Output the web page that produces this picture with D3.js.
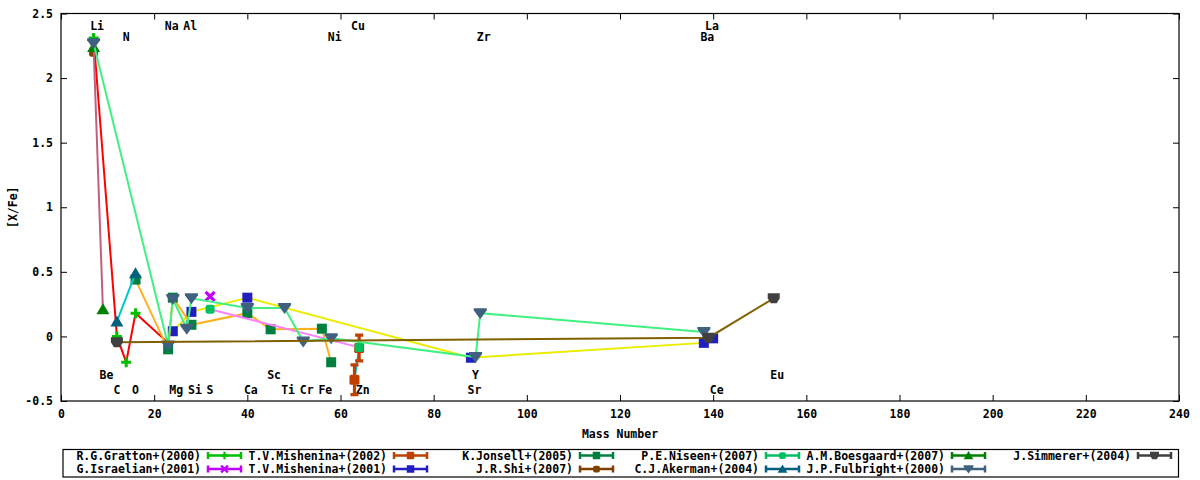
<!DOCTYPE html>
<html><head><meta charset="utf-8">
<script src="https://cdn.jsdelivr.net/npm/d3@7/dist/d3.min.js"></script>
<style>
body{margin:0;background:#fff}
text{font-family:"DejaVu Sans Mono","Liberation Mono",monospace;font-weight:bold;font-size:11.5px;fill:#000}
</style>
</head><body>
<svg id="chart" width="1200" height="480"></svg>
<script>
// ---- data ----
const seriesNames = ["R.G.Gratton+(2000)","G.Israelian+(2001)","T.V.Mishenina+(2002)","T.V.Mishenina+(2001)",
  "K.Jonsell+(2005)","J.R.Shi+(2007)","P.E.Niseen+(2007)","C.J.Akerman+(2004)",
  "A.M.Boesgaard+(2007)","J.P.Fulbright+(2000)","J.Simmerer+(2004)"];

const grattonMass = [7, 12, 14, 16, 23];
const grattonValue = [2.31, 0.0, -0.20, 0.18, -0.05];

const israelianMass = [32];
const israelianValue = [0.31];

const mishenina2002Mass = [63, 64];
const mishenina2002Value = [-0.335, -0.09];
const mishenina2002Err = [0.115, 0.10];

const mishenina2001Mass = [24, 28, 40, 88, 138, 140];
const mishenina2001Value = [0.04, 0.19, 0.30, -0.165, -0.05, -0.015];

const jonsellMass = [16, 23, 24, 28, 40, 45, 56, 58];
const jonsellValue = [0.44, -0.10, 0.30, 0.09, 0.18, 0.055, 0.06, -0.20];

const shiMass = [7];
const shiValue = [2.20];

const nissenMass = [32, 64];
const nissenValue = [0.21, -0.085];

const akermanMass = [12, 16];
const akermanValue = [0.115, 0.49];

const boesgaardMass = [7, 9];
const boesgaardValue = [2.24, 0.21];

const fulbrightMass = [7, 23, 24, 27, 28, 40, 48, 52, 58, 89, 90, 138];
const fulbrightValue = [2.27, -0.07, 0.29, 0.06, 0.295, 0.22, 0.22, -0.04, -0.015, -0.16, 0.18, 0.035];

const simmererMass = [12, 139, 153];
const simmererValue = [-0.045, -0.01, 0.295];

const xTicks = [0, 20, 40, 60, 80, 100, 120, 140, 160, 180, 200, 220, 240];
const yTicks = [-0.5, 0, 0.5, 1, 1.5, 2, 2.5];
const yTickLabels = ["-0.5", "0", "0.5", "1", "1.5", "2", "2.5"];

const elementNames = ["Li","Na","Al","Cu","La","N","Ni","Zr","Ba","Be","Sc","Y","Eu",
  "C","O","Mg","Si","S","Ca","Ti","Cr","Fe","Zn","Sr","Ce"];
const elementMass = [7,23,27,63,139,14,58,90,138,9,45,89,153,12,16,24,28,32,40,48,52,56,64,88,140];
const elementLevel = [2.40,2.40,2.40,2.40,2.40,2.32,2.32,2.32,2.32,-0.30,-0.30,-0.30,-0.30,
  -0.415,-0.415,-0.415,-0.415,-0.415,-0.415,-0.415,-0.415,-0.415,-0.415,-0.415,-0.415];

// ---- styles ----
const markerColors = ["#00c000","#c000ff","#c04000","#2020c0","#008040","#804000","#00c060","#006080","#008000","#406080","#404040"];
const lineColors   = ["#ff0000",null,"#00c8c8","#ecec00","#ffb020",null,"#ff80ff","#00c8c8","#c06080","#40f080","#806000"];
const symbols = ["plus","cross","biground","square","square","round","round","up","up","down","blob"];

const seriesData = [
  [grattonMass, grattonValue, null],
  [israelianMass, israelianValue, null],
  [mishenina2002Mass, mishenina2002Value, mishenina2002Err],
  [mishenina2001Mass, mishenina2001Value, null],
  [jonsellMass, jonsellValue, null],
  [shiMass, shiValue, null],
  [nissenMass, nissenValue, null],
  [akermanMass, akermanValue, null],
  [boesgaardMass, boesgaardValue, null],
  [fulbrightMass, fulbrightValue, null],
  [simmererMass, simmererValue, null]
];

const series = seriesNames.map((n, i) => ({
  name: n,
  points: seriesData[i][0].map((m, j) => ({m: m, v: seriesData[i][1][j], e: seriesData[i][2] ? seriesData[i][2][j] : 0})),
  hasErr: !!seriesData[i][2],
  color: markerColors[i], line: lineColors[i], symbol: symbols[i]
}));

// ---- layout ----
const L = 61, R = 1179, T = 13.5, B = 401;
const svg = d3.select("#chart");
svg.append("rect").attr("width",1200).attr("height",480).attr("fill","#fff");

const x = d3.scaleLinear().domain([0,240]).range([L,R]);
const y = d3.scaleLinear().domain([-0.5,2.5]).range([B,T]);

// axes
const fmtY = d => yTickLabels[yTicks.indexOf(d)];
svg.append("g").attr("transform",`translate(0,${B})`)
  .call(d3.axisBottom(x).tickValues(xTicks).tickFormat(d3.format("d")).tickSizeInner(-6).tickSizeOuter(0).tickPadding(9))
  .call(g => g.select(".domain").remove());
svg.append("g").attr("transform",`translate(0,${T})`)
  .call(d3.axisTop(x).tickValues(xTicks).tickFormat("").tickSizeInner(-6).tickSizeOuter(0))
  .call(g => g.select(".domain").remove());
svg.append("g").attr("transform",`translate(${L},0)`)
  .call(d3.axisLeft(y).tickValues(yTicks).tickFormat(fmtY).tickSizeInner(-6).tickSizeOuter(0).tickPadding(8))
  .call(g => g.select(".domain").remove());
svg.append("g").attr("transform",`translate(${R},0)`)
  .call(d3.axisRight(y).tickValues(yTicks).tickFormat("").tickSizeInner(-6).tickSizeOuter(0))
  .call(g => g.select(".domain").remove());
svg.selectAll(".tick line").attr("stroke","#000").attr("stroke-width",1);
svg.selectAll(".tick text").style("font-family",'"DejaVu Sans Mono",monospace').style("font-size","11.5px").style("font-weight","bold").attr("fill","#000");

svg.append("rect").attr("x",L).attr("y",T).attr("width",R-L).attr("height",B-T)
  .attr("fill","none").attr("stroke","#000").attr("stroke-width",1.2);

// axis titles
svg.append("text").attr("x",(L+R)/2).attr("y",434).attr("dy","0.35em").attr("text-anchor","middle").text("Mass Number");
svg.append("text").attr("transform",`translate(13,${(T+B)/2}) rotate(-90)`).attr("dy","0.35em").attr("text-anchor","middle").text("[X/Fe]");

// element labels
const plot = svg.append("g");
elementNames.forEach((n, i) => {
  plot.append("text").attr("x", x(elementMass[i]) + (n.length-1)*3.5).attr("y", y(elementLevel[i]))
    .attr("dy","0.35em").attr("text-anchor","middle").text(n);
});

// markers
function drawMarker(g, sym, color, cx, cy, s) {
  s = s || 1;
  const t = `translate(${cx},${cy}) scale(${s})`;
  if (sym === "square") {
    g.append("rect").attr("x",-5).attr("y",-5).attr("width",10).attr("height",10).attr("fill",color).attr("transform",t);
  } else if (sym === "round") {
    g.append("rect").attr("x",-4.5).attr("y",-4.5).attr("width",9).attr("height",9).attr("rx",2.5).attr("fill",color).attr("transform",t);
  } else if (sym === "biground") {
    g.append("rect").attr("x",-5).attr("y",-5).attr("width",10).attr("height",10).attr("rx",1.5).attr("fill",color).attr("transform",t);
  } else if (sym === "up") {
    g.append("path").attr("d","M0,-6L6.5,5L-6.5,5Z").attr("fill",color).attr("transform",t);
  } else if (sym === "down") {
    g.append("path").attr("d","M-6.5,-5L6.5,-5L6.5,-3L0,6L-6.5,-3Z").attr("fill",color).attr("transform",t);
  } else if (sym === "blob") {
    g.append("path").attr("d","M-6,-5L6,-5L6,0L3,5L-3,5L-6,0Z").attr("fill",color).attr("transform",t);
  } else if (sym === "plus") {
    g.append("path").attr("d","M-5,0H5M0,-5V5").attr("stroke",color).attr("stroke-width",3).attr("fill","none").attr("transform",t);
  } else if (sym === "cross") {
    g.append("path").attr("d","M-4.5,-4.5L4.5,4.5M-4.5,4.5L4.5,-4.5").attr("stroke",color).attr("stroke-width",3.2).attr("fill","none").attr("transform",t);
  }
}

const line = d3.line().x(d => x(d.m)).y(d => y(d.v));
series.forEach(s => {
  const g = plot.append("g");
  if (s.line && s.points.length > 1) {
    g.append("path").datum(s.points).attr("d", line).attr("fill","none")
      .attr("stroke", s.line).attr("stroke-width", 2);
  }
  if (s.hasErr) {
    s.points.forEach(p => {
      const x0 = x(p.m), y1 = y(p.v + p.e), y2 = y(p.v - p.e);
      g.append("path").attr("d",`M${x0},${y1}V${y2}M${x0-4},${y1}H${x0+4}M${x0-4},${y2}H${x0+4}`)
        .attr("stroke", s.color).attr("stroke-width", 3.2).attr("fill","none");
    });
  }
  s.points.forEach(p => drawMarker(g, s.symbol, s.color, x(p.m), y(p.v)));
});

// legend
const lg = svg.append("g");
lg.append("rect").attr("x",63).attr("y",449.5).attr("width",1115.5).attr("height",27.5)
  .attr("fill","#fff").attr("stroke","#000").attr("stroke-width",1.2);
const rowY = [455.5, 469];
series.forEach((s, i) => {
  const col = Math.floor(i/2), row = i % 2;
  const sx = 207 + 186*col, sy = rowY[row], sw = 35;
  lg.append("text").attr("x", sx-6).attr("y", sy).attr("dy","0.35em").attr("text-anchor","end").text(s.name);
  lg.append("path").attr("d",`M${sx},${sy}H${sx+sw}M${sx+1},${sy-3.5}V${sy+3.5}M${sx+sw-1},${sy-3.5}V${sy+3.5}`)
    .attr("stroke", s.color).attr("stroke-width", 2.5).attr("fill","none");
  drawMarker(lg, s.symbol, s.color, sx+sw/2, sy, 0.75);
});
</script>
</body></html>
